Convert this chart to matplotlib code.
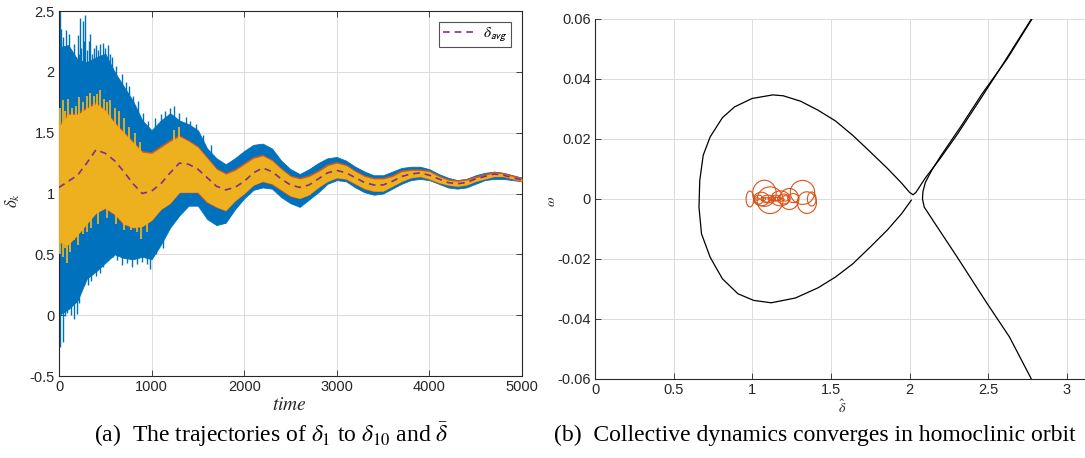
import numpy as np
import matplotlib.pyplot as plt
from matplotlib.patches import Ellipse

plt.rcParams['font.family'] = ['Liberation Sans', 'DejaVu Sans']
plt.rcParams['mathtext.fontset'] = 'stix'

# ---- left panel: delta_k trajectories (band envelopes read every 100 time units) ----
t = np.arange(0, 5001, 100)

blue_hi = [2.20, 2.22, 2.10, 2.08, 2.12, 2.15, 2.00, 1.88, 1.76, 1.60, 1.52,
           1.60, 1.66, 1.60, 1.57, 1.52, 1.37, 1.29, 1.24, 1.29, 1.35,
           1.40, 1.41, 1.37, 1.27, 1.20, 1.16, 1.20, 1.25, 1.29, 1.30,
           1.27, 1.22, 1.18, 1.15, 1.15, 1.18, 1.21, 1.22, 1.22, 1.20,
           1.16, 1.13, 1.11, 1.12, 1.15, 1.17, 1.18, 1.17, 1.15, 1.13]
blue_lo = [0.00, 0.05, 0.12, 0.30, 0.36, 0.43, 0.50, 0.47, 0.46, 0.48, 0.46,
           0.58, 0.72, 0.82, 0.90, 0.90, 0.79, 0.74, 0.76, 0.87, 0.96,
           1.03, 1.05, 1.04, 0.97, 0.92, 0.89, 0.95, 1.01, 1.08, 1.11,
           1.10, 1.05, 1.01, 0.99, 1.00, 1.04, 1.08, 1.11, 1.12, 1.11,
           1.08, 1.05, 1.04, 1.05, 1.08, 1.11, 1.12, 1.12, 1.11, 1.10]
yel_hi = [1.55, 1.65, 1.65, 1.70, 1.74, 1.68, 1.58, 1.50, 1.42, 1.34, 1.33,
          1.38, 1.43, 1.47, 1.43, 1.38, 1.29, 1.20, 1.16, 1.19, 1.24,
          1.29, 1.31, 1.27, 1.20, 1.14, 1.12, 1.14, 1.18, 1.23, 1.25,
          1.23, 1.18, 1.14, 1.12, 1.12, 1.14, 1.18, 1.19, 1.19, 1.18,
          1.14, 1.11, 1.10, 1.11, 1.13, 1.15, 1.17, 1.16, 1.14, 1.12]
yel_lo = [0.60, 0.58, 0.66, 0.75, 0.84, 0.88, 0.83, 0.75, 0.72, 0.73, 0.78,
          0.87, 0.92, 1.01, 1.01, 1.01, 0.93, 0.89, 0.86, 0.94, 1.00,
          1.07, 1.10, 1.08, 1.03, 0.98, 0.96, 0.99, 1.05, 1.10, 1.13,
          1.12, 1.08, 1.04, 1.02, 1.02, 1.06, 1.10, 1.13, 1.14, 1.12,
          1.09, 1.07, 1.06, 1.07, 1.10, 1.12, 1.14, 1.14, 1.12, 1.10]
avg = [1.05, 1.10, 1.15, 1.25, 1.36, 1.33, 1.27, 1.18, 1.08, 1.00, 1.02,
       1.08, 1.17, 1.25, 1.24, 1.20, 1.13, 1.06, 1.03, 1.05, 1.10,
       1.17, 1.21, 1.18, 1.12, 1.07, 1.05, 1.07, 1.12, 1.17, 1.19,
       1.17, 1.13, 1.09, 1.07, 1.07, 1.10, 1.14, 1.16, 1.17, 1.15,
       1.12, 1.09, 1.08, 1.09, 1.12, 1.14, 1.16, 1.15, 1.13, 1.11]

# isolated large excursions of the trajectories
blue_up_t = [7, 18, 26, 37, 48, 60, 78, 92, 108, 125, 140, 163, 180, 200, 215, 227, 240, 256, 270, 282,
             300, 320, 338, 360, 380, 400, 420, 442, 472, 500, 530, 552, 572, 590, 620, 646, 680, 720,
             760, 800, 850, 906, 960, 1040, 1100, 1148, 1200, 1240, 1300, 1370, 1420, 1482, 1560, 1640]
blue_up_v = [2.50, 2.25, 2.35, 2.20, 2.29, 2.15, 2.34, 2.12, 2.31, 2.18, 2.10, 2.23, 2.12, 2.30, 2.15, 2.44, 2.20, 2.42, 2.25, 2.47,
             2.18, 2.25, 2.31, 2.15, 2.20, 2.22, 2.18, 2.23, 2.24, 2.20, 2.22, 2.15, 2.12, 2.01, 2.05, 1.90, 1.98, 1.92,
             1.88, 1.80, 1.76, 1.66, 1.60, 1.62, 1.65, 1.68, 1.70, 1.72, 1.66, 1.63, 1.60, 1.57, 1.48, 1.40]
blue_dn_t = [11, 25, 41, 55, 70, 90, 110, 130, 163, 190, 215, 238, 270, 312, 350, 400, 440, 479, 530, 580,
             630, 683, 730, 788, 840, 900, 950, 988, 1050, 1120]
blue_dn_v = [-0.26, 0.05, -0.22, 0.10, -0.01, 0.02, 0.05, 0.00, -0.03, 0.01, 0.10, 0.23, 0.25, 0.25, 0.28, 0.32, 0.35, 0.40, 0.45, 0.48,
             0.45, 0.41, 0.43, 0.40, 0.42, 0.44, 0.42, 0.38, 0.50, 0.55]
yel_up_t = [15, 41, 70, 100, 140, 180, 219, 260, 300, 338, 380, 410, 442, 490, 520, 553, 600, 646, 700, 760, 820, 880, 1240, 1300]
yel_up_v = [1.70, 1.77, 1.68, 1.78, 1.70, 1.72, 1.79, 1.75, 1.80, 1.83, 1.80, 1.82, 1.85, 1.78, 1.75, 1.77, 1.70, 1.68, 1.62, 1.55, 1.50, 1.42, 1.52, 1.55]
yel_dn_t = [10, 41, 65, 89, 120, 163, 200, 256, 300, 350, 420, 520, 620, 700, 776, 840, 888, 950]
yel_dn_v = [0.50, 0.48, 0.55, 0.43, 0.52, 0.62, 0.58, 0.67, 0.68, 0.72, 0.75, 0.80, 0.75, 0.70, 0.70, 0.68, 0.63, 0.68]

# ---- right panel: phase portrait ----
orbit1_x = [2.011, 1.949, 1.861, 1.750, 1.639, 1.529, 1.418, 1.274, 1.120, 1.009, 0.909,
            0.810, 0.732, 0.677, 0.661, 0.666, 0.688, 0.732, 0.810, 0.887, 0.998,
            1.130, 1.197, 1.307, 1.418, 1.529, 1.639, 1.750, 1.861, 1.949, 2.000,
            2.022, 2.040, 2.100, 2.190, 2.300, 2.450, 2.600, 2.774]
orbit1_y = [-0.0004, -0.0049, -0.0102, -0.0160, -0.0216, -0.0260, -0.0296, -0.0330, -0.0346, -0.0338, -0.0316,
            -0.0266, -0.0194, -0.0116, -0.0027, 0.0062, 0.0146, 0.0207, 0.0271, 0.0307, 0.0335,
            0.0347, 0.0344, 0.0326, 0.0296, 0.0260, 0.0212, 0.0157, 0.0101, 0.0053, 0.0022,
            0.0014, 0.0022, 0.0070, 0.0132, 0.0213, 0.0333, 0.0455, 0.0600]
orbit2_x = [2.778, 2.620, 2.460, 2.330, 2.200, 2.140, 2.100, 2.085, 2.082, 2.093, 2.148,
            2.303, 2.480, 2.635, 2.774]
orbit2_y = [0.0600, 0.0467, 0.0350, 0.0245, 0.0145, 0.0095, 0.0055, 0.0025, 0.0000, -0.0027, -0.0071,
            -0.0194, -0.0338, -0.0460, -0.0600]

# collective trajectory loops: centre x, centre y, width, height
loop_cx = [0.985, 1.077, 1.113, 1.319, 1.347, 1.235, 1.058, 1.179, 1.378, 1.200, 1.100, 1.150,
           1.040, 1.260, 1.120, 1.070, 1.090, 1.160, 1.210, 1.030, 1.135, 1.185]
loop_cy = [0.0000, 0.0019, -0.0004, 0.0022, -0.0012, 0.0000, 0.0000, 0.0002, 0.0000, 0.0000, 0.0000, 0.0003,
           -0.0002, 0.0003, 0.0000, 0.0000, -0.0003, 0.0000, 0.0002, 0.0000, 0.0001, -0.0002]
loop_w = [0.049, 0.150, 0.166, 0.155, 0.122, 0.122, 0.100, 0.120, 0.055, 0.080, 0.090, 0.060,
          0.060, 0.070, 0.040, 0.030, 0.050, 0.040, 0.045, 0.030, 0.025, 0.035]
loop_h = [0.0053, 0.0087, 0.0089, 0.0080, 0.0072, 0.0070, 0.0045, 0.0050, 0.0047, 0.0033, 0.0025, 0.0020,
          0.0030, 0.0030, 0.0012, 0.0010, 0.0015, 0.0012, 0.0018, 0.0008, 0.0006, 0.0010]

BLUE = '#0072BD'
ORANGE = '#D95319'
YELLOW = '#EDB120'
PURPLE = '#7E2F8E'
GRID = '#dcdcdc'
AXC = '#262626'

fig = plt.figure(figsize=(10.85, 4.58), dpi=100)

def style(ax, box=True):
    ax.grid(True, color=GRID, linewidth=0.7)
    ax.set_axisbelow(True)
    ax.tick_params(direction='in', length=4, width=0.6, labelsize=10.5, colors=AXC, pad=3,
                   right=box, top=box)
    for s in ax.spines.values():
        s.set_linewidth(0.8)
        s.set_color(AXC)
    if not box:
        ax.spines['top'].set_visible(False)
        ax.spines['right'].set_visible(False)

# left axes
ax1 = fig.add_axes([59 / 1085, 1 - 376 / 458, 463 / 1085, 365 / 458])
style(ax1)
avg_up = np.interp(blue_up_t, t, avg)
avg_dn = np.interp(blue_dn_t, t, avg)
ax1.fill_between(t, blue_lo, blue_hi, color=BLUE, linewidth=0.6, edgecolor=BLUE, zorder=2)
ax1.vlines(blue_up_t, avg_up, blue_up_v, color=BLUE, linewidth=1.0, zorder=2)
ax1.vlines(blue_dn_t, blue_dn_v, avg_dn, color=BLUE, linewidth=1.0, zorder=2)
ax1.plot(t, yel_hi, color=ORANGE, linewidth=1.4, zorder=3)
ax1.plot(t, yel_lo, color=ORANGE, linewidth=1.4, zorder=3)
ax1.fill_between(t, yel_lo, yel_hi, color=YELLOW, linewidth=0, zorder=4)
ax1.vlines(yel_up_t, np.interp(yel_up_t, t, avg), yel_up_v, color=YELLOW, linewidth=1.3, zorder=4)
ax1.vlines(yel_dn_t, yel_dn_v, np.interp(yel_dn_t, t, avg), color=YELLOW, linewidth=1.3, zorder=4)
ax1.plot(t, avg, color=PURPLE, linestyle=(0, (4, 3)), linewidth=1.2, zorder=5,
         label=r'$\delta_{\mathsf{avg}}$')
ax1.set_xlim(0, 5000)
ax1.set_ylim(-0.5, 2.5)
ax1.set_xticks(np.arange(0, 5001, 1000))
ax1.set_yticks(np.arange(-0.5, 2.51, 0.5))
ax1.set_yticklabels(['-0.5', '0', '0.5', '1', '1.5', '2', '2.5'])
leg = ax1.legend(loc='upper right', fontsize=11, frameon=True, fancybox=False,
                 handlelength=2.0, borderpad=0.25, borderaxespad=0.7, handletextpad=0.6)
leg.get_frame().set_edgecolor(AXC)
leg.get_frame().set_linewidth(0.8)

# right axes
ax2 = fig.add_axes([595 / 1085, 1 - 379 / 458, np.pi * 157.3 / 1085, 360 / 458])
style(ax2, box=False)
ax2.plot(orbit1_x, orbit1_y, color='black', linewidth=0.9)
ax2.plot(orbit2_x, orbit2_y, color='black', linewidth=0.9)
for cx, cy, w, h in zip(loop_cx, loop_cy, loop_w, loop_h):
    ax2.add_patch(Ellipse((cx, cy), w, h, fill=False, edgecolor=ORANGE, linewidth=0.8))
ax2.set_xlim(0, np.pi)
ax2.set_ylim(-0.06, 0.06)
ax2.set_xticks(np.arange(0, 3.01, 0.5))
ax2.set_xticklabels(['0', '0.5', '1', '1.5', '2', '2.5', '3'])
ax2.set_yticks(np.arange(-0.06, 0.061, 0.02))
ax2.set_yticklabels(['-0.06', '-0.04', '-0.02', '0', '0.02', '0.04', '0.06'])

# axis labels
fig.text(289 / 1085, 1 - 406 / 458, r'$time$', fontsize=14, ha='center', va='center', color=AXC)
fig.text(13 / 1085, 1 - 200 / 458, r'$\delta_k$', fontsize=12, ha='center', va='center', rotation=90, color=AXC)
fig.text(842 / 1085, 1 - 407 / 458, r'$\hat{\delta}$', fontsize=10, ha='center', va='center', color=AXC)
fig.text(551 / 1085, 1 - 201 / 458, r'$\omega$', fontsize=10, ha='center', va='center', rotation=90, color=AXC)

# sub-figure captions
cap = dict(fontsize=17, family=['Liberation Serif', 'DejaVu Serif'], ha='center', va='center')
fig.text(271 / 1085, 1 - 435 / 458, r'(a)  The trajectories of $\delta_1$ to $\delta_{10}$ and $\bar{\delta}$', **cap)
fig.text(815 / 1085, 1 - 435 / 458, '(b)  Collective dynamics converges in homoclinic orbit', **cap)

fig.savefig('out.png', dpi=100)
